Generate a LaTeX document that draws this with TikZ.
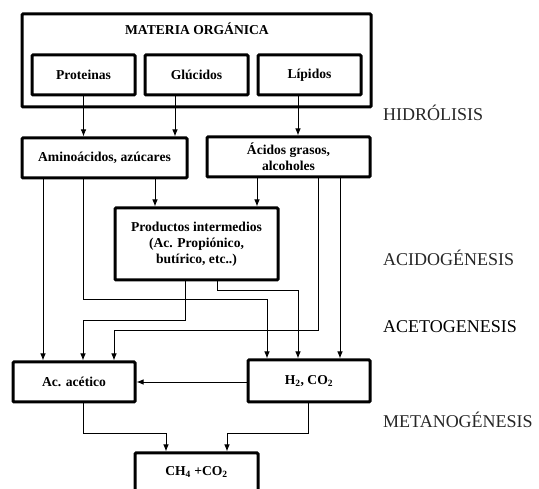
\documentclass[tikz,border=0pt]{standalone}
\usepackage{fontspec}
\setmainfont{Liberation Serif}
\usetikzlibrary{arrows.meta}
\begin{document}
\begin{tikzpicture}[x=1pt,y=-1pt,
 box/.style={draw, line width=3pt, rounded corners=1pt, inner sep=0pt, align=center, font=\bfseries\fontsize{13.6}{16}\selectfont},
 arr/.style={line width=0.9pt, -{Latex[length=7pt,width=5.5pt]}},
 stage/.style={anchor=west, text=black!85, font=\fontsize{18}{20}\selectfont, inner sep=0pt}]
\clip (0,0) rectangle (539,489);
% boxes
\node[box, minimum width=349pt, minimum height=93pt] (mat) at (196.5,60.5) {};
\node[font=\bfseries\fontsize{13.6}{16}\selectfont, inner sep=0pt] (mattxt) at (197,29) {MATERIA ORGÁNICA};
\node[box, minimum width=103pt, minimum height=40pt] (prot) at (83.5,75) {Proteinas};
\node[box, minimum width=103pt, minimum height=40pt] (gluc) at (196.5,75) {Glúcidos};
\node[box, minimum width=103pt, minimum height=40pt] (lip) at (309.5,75) {Lípidos};
\node[box, minimum width=165pt, minimum height=40pt] (amino) at (104.5,158) {Aminoácidos, azúcares};
\node[box, minimum width=163pt, minimum height=40pt] (acid) at (288.5,157) {Ácidos grasos,\\alcoholes};
\node[box, minimum width=163pt, minimum height=72pt] (prod) at (196.5,244) {Productos intermedios\\(Ac. Propiónico,\\butírico, etc..)};
\node[box, minimum width=122pt, minimum height=40pt] (acet) at (74,382) {Ac. acético};
\node[box, minimum width=122pt, minimum height=42pt] (h2) at (309,381) {H\textsubscript{2}, CO\textsubscript{2}};
\node[box, minimum width=123pt, minimum height=38pt] (ch4) at (196.5,472) {CH\textsubscript{4} +CO\textsubscript{2}};
% stage labels
\node[stage] (s1) at (383,113) {HIDRÓLISIS};
\node[stage] (s2) at (383,258) {ACIDOGÉNESIS};
\node[stage, text=black] (s3) at (383,327) {ACETOGENESIS};
\node[stage] (s4) at (383,420) {METANOGÉNESIS};
% column / bend coordinates
\coordinate (xg) at (175,0);
\coordinate (xl) at (298,0);
\coordinate (x43) at (43,0);
\coordinate (x155) at (155,0);
\coordinate (x257) at (257,0);
\coordinate (x340) at (340,0);
\coordinate (b1a) at (83,299);
\coordinate (b1b) at (267,299);
\coordinate (b2a) at (185,320);
\coordinate (b2b) at (83,320);
\coordinate (b3a) at (217,290);
\coordinate (b3b) at (298,290);
\coordinate (b4a) at (318,330);
\coordinate (b4b) at (114,330);
\coordinate (b5a) at (83,433);
\coordinate (b5b) at (166,433);
\coordinate (b6a) at (308,433);
\coordinate (b6b) at (227,433);
% connectors
\draw[arr] (prot.south) -- (prot.south |- amino.north);
\draw[arr] (gluc.south -| xg) -- (amino.north -| xg);
\draw[arr] (lip.south -| xl) -- (acid.north -| xl);
\draw[arr] (amino.south -| x155) -- (prod.north -| x155);
\draw[arr] (acid.south -| x257) -- (prod.north -| x257);
\draw[arr] (amino.south -| x43) -- (acet.north -| x43);
\draw[arr] (amino.south -| b1a) -- (b1a) -- (b1b) -- (h2.north -| b1b);
\draw[arr] (prod.south -| b2a) -- (b2a) -- (b2b) -- (acet.north -| b2b);
\draw[arr] (prod.south -| b3a) -- (b3a) -- (b3b) -- (h2.north -| b3b);
\draw[arr] (acid.south -| b4a) -- (b4a) -- (b4b) -- (acet.north -| b4b);
\draw[arr] (acid.south -| x340) -- (h2.north -| x340);
\draw[arr] (h2.west |- acet.east) -- (acet.east);
\draw[arr] (acet.south -| b5a) -- (b5a) -- (b5b) -- (ch4.north -| b5b);
\draw[arr] (h2.south -| b6a) -- (b6a) -- (b6b) -- (ch4.north -| b6b);
\end{tikzpicture}
\end{document}
